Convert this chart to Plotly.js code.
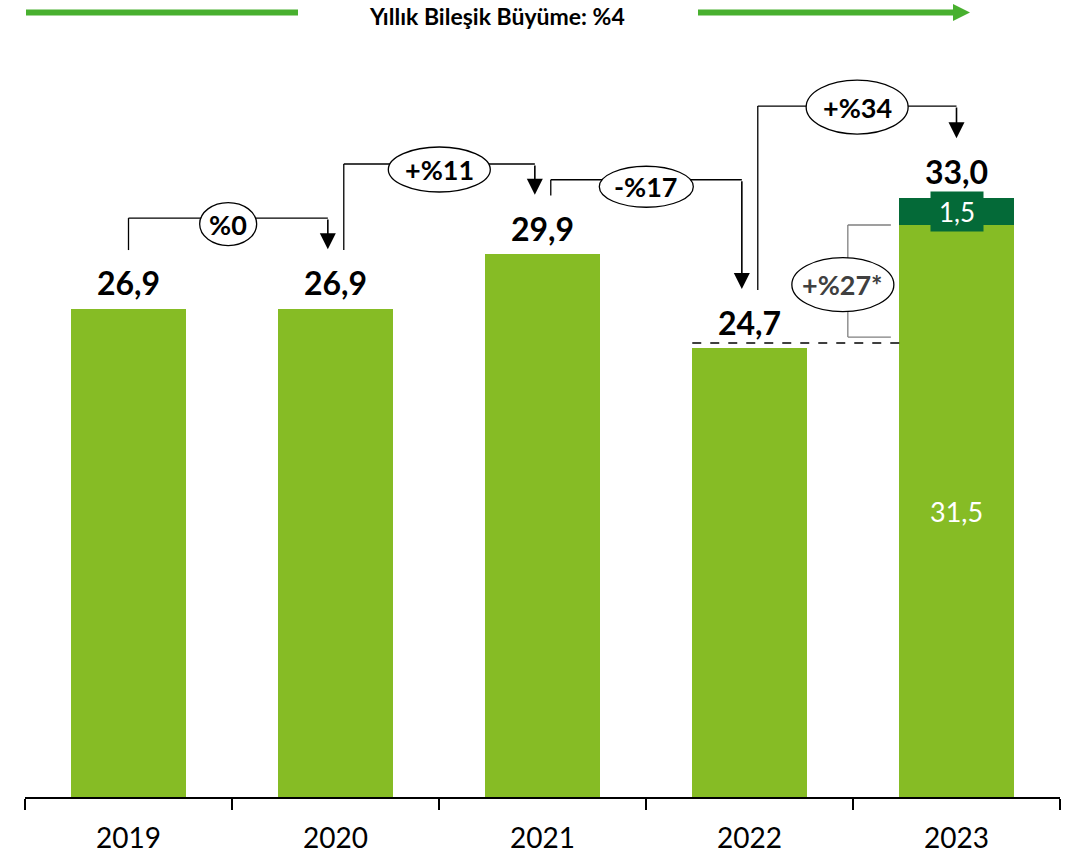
<!DOCTYPE html>
<html>
<head>
<meta charset="utf-8">
<script src="https://cdn.plot.ly/plotly-3.0.1.min.js"></script>
<style>
  html, body { margin: 0; padding: 0; background: #fff; }
  #chart { width: 1079px; height: 856px; }
</style>
</head>
<body>
<div id="chart"></div>
<script>
// values
const years = ['2019', '2020', '2021', '2022', '2023'];
const baseValues = [26.9, 26.9, 29.9, 24.7, 31.5];
const extraValues = [null, null, null, null, 1.5];
const totals = [26.9, 26.9, 29.9, 24.7, 33.0];
const changeLabels = ['%0', '+%11', '-%17', '+%34'];
const likeForLikeLabel = '+%27*';
const cagrLabel = 'Yıllık Bileşik Büyüme: %4';

const lightGreen = '#86bc25';
const darkGreen = '#046a38';
const topGreen = '#48b02f';
const FONT = 'Lato, "Open Sans", sans-serif';

// plot geometry
const W = 1079, H = 856;
const M = {l: 25, r: 19, t: 0, b: 59};
const plotW = W - M.l - M.r;
const plotH = H - M.t - M.b;
const yMax = 43.89;
const bargap = 0.447;
const pxX = years.length / plotW;   // category units per pixel
const pxY = yMax / plotH;           // value units per pixel

function fmt(v) { return v.toFixed(1).replace('.', ','); }

// bracket levels and bubble sizes (pixels), one per change label
const levels = [31.88, 34.86, 33.99, 38.05];
const bubbleRx = [28.5, 51, 47, 51];
const bubbleRy = [21.5, 22.5, 20.5, 27];
const bubbleDy = [6, 5.5, 7, 1];

const shapes = [];
const annotations = [];

// top CAGR banner
const py = p => 1 - p / plotH;
const pxp = p => (p - M.l) / plotW;
shapes.push({type: 'line', xref: 'paper', yref: 'paper',
  x0: pxp(26), x1: pxp(298), y0: py(12.5), y1: py(12.5),
  line: {color: topGreen, width: 6}});
shapes.push({type: 'line', xref: 'paper', yref: 'paper',
  x0: pxp(698), x1: pxp(955), y0: py(12.5), y1: py(12.5),
  line: {color: topGreen, width: 6}});
shapes.push({type: 'path', xref: 'paper', yref: 'paper',
  path: `M${pxp(953)},${py(4)} L${pxp(970)},${py(12.5)} L${pxp(953)},${py(21)} Z`,
  fillcolor: topGreen, line: {width: 0}});
annotations.push({xref: 'paper', yref: 'paper', x: pxp(497), y: py(16),
  xanchor: 'center', yanchor: 'middle',
  text: '<b>' + cagrLabel + '</b>', showarrow: false,
  font: {family: FONT, size: 23, color: '#000'}});

// year-over-year brackets
changeLabels.forEach((lab, i) => {
  const x0 = i === 0 ? i : i + 0.04;
  const x1 = i + 1 === years.length - 1 ? i + 1 : i + 1 - 0.037;
  const y0 = totals[i] + 3.22;
  const tip = totals[i + 1] + 3.27;
  const lv = levels[i];
  shapes.push({type: 'line', xref: 'x', yref: 'y', x0: x0, x1: x0, y0: y0, y1: lv,
    line: {color: '#000', width: 1.3}});
  shapes.push({type: 'line', xref: 'x', yref: 'y', x0: x0, x1: x1, y0: lv, y1: lv,
    line: {color: '#000', width: 1.3}});
  const ex = (x0 + x1) / 2;
  const ey = lv - bubbleDy[i] * pxY;
  shapes.push({type: 'circle', xref: 'x', yref: 'y',
    x0: ex - bubbleRx[i] * pxX, x1: ex + bubbleRx[i] * pxX,
    y0: ey - bubbleRy[i] * pxY, y1: ey + bubbleRy[i] * pxY,
    fillcolor: '#fff', line: {color: '#000', width: 1.3}});
  annotations.push({x: ex, y: ey, xref: 'x', yref: 'y', text: '<b>' + lab + '</b>',
    showarrow: false, font: {family: FONT, size: 27, color: '#000'}});
  annotations.push({x: x1, y: tip, ax: x1, ay: lv, xref: 'x', yref: 'y',
    axref: 'x', ayref: 'y', text: '', showarrow: true, arrowhead: 2,
    arrowsize: 2, arrowwidth: 1.6, arrowcolor: '#000'});
});

// 2022 reference dashed line and like-for-like bracket
const half = (1 - bargap) / 2;
const refY = baseValues[3] + 0.3;
shapes.push({type: 'line', xref: 'x', yref: 'y', x0: 3 - half, x1: 4 - half,
  y0: refY, y1: refY, line: {color: '#000', width: 1.5, dash: 'dash'}});
const bx = 3.475, bxEnd = 3.683;
const bTop = baseValues[4], bBot = refY + 0.33;
[[bx, bTop, bxEnd, bTop], [bx, bBot, bxEnd, bBot], [bx, bBot, bx, bTop]].forEach(s => {
  shapes.push({type: 'line', xref: 'x', yref: 'y', x0: s[0], y0: s[1], x1: s[2], y1: s[3],
    line: {color: '#7f7f7f', width: 1.3}});
});
const lx = 3.451, ly = (bTop + bBot) / 2 - 0.2;
shapes.push({type: 'circle', xref: 'x', yref: 'y',
  x0: lx - 51 * pxX, x1: lx + 51 * pxX, y0: ly - 27 * pxY, y1: ly + 27 * pxY,
  fillcolor: '#fff', line: {color: '#000', width: 1.3}});
annotations.push({x: lx, y: ly, xref: 'x', yref: 'y', text: '<b>' + likeForLikeLabel + '</b>',
  showarrow: false, font: {family: FONT, size: 27, color: '#404040'}});

// value labels
totals.forEach((v, i) => {
  annotations.push({x: i, y: v, xref: 'x', yref: 'y', yshift: 26,
    text: '<b>' + fmt(v) + '</b>', showarrow: false, yanchor: 'middle',
    font: {family: FONT, size: 32, color: '#000'}});
});
annotations.push({x: 4, y: baseValues[4] / 2, xref: 'x', yref: 'y',
  text: fmt(baseValues[4]), showarrow: false,
  font: {family: FONT, size: 27, color: '#fff'}});
annotations.push({x: 4, y: baseValues[4] + extraValues[4] / 2, xref: 'x', yref: 'y',
  text: fmt(extraValues[4]), showarrow: false, bgcolor: darkGreen,
  width: 46, height: 33, borderpad: 3,
  font: {family: FONT, size: 26, color: '#fff'}});

const data = [
  {x: years, y: baseValues, type: 'bar', marker: {color: lightGreen, line: {width: 0}},
   hoverinfo: 'skip'},
  {x: years, y: extraValues, type: 'bar', marker: {color: darkGreen, line: {width: 0}},
   hoverinfo: 'skip'}
];

const layout = {
  width: W, height: H,
  margin: M,
  barmode: 'stack',
  bargap: bargap,
  showlegend: false,
  paper_bgcolor: '#fff',
  plot_bgcolor: '#fff',
  font: {family: FONT, color: '#000'},
  hovermode: false,
  xaxis: {
    type: 'category',
    categoryorder: 'array', categoryarray: years,
    range: [-0.5, years.length - 0.5], autorange: false,
    showline: true, linecolor: '#000', linewidth: 1.5,
    ticks: 'outside', tickson: 'boundaries', ticklen: 11, tickcolor: '#000', tickwidth: 1.3,
    ticklabelstandoff: 16,
    tickfont: {family: FONT, size: 28, color: '#000'},
    showgrid: false, zeroline: false, fixedrange: true
  },
  yaxis: {
    range: [0, yMax], autorange: false, visible: false, showgrid: false, zeroline: false,
    fixedrange: true
  },
  shapes: shapes,
  annotations: annotations
};

Plotly.newPlot('chart', data, layout, {displayModeBar: false, staticPlot: true});
</script>
</body>
</html>
